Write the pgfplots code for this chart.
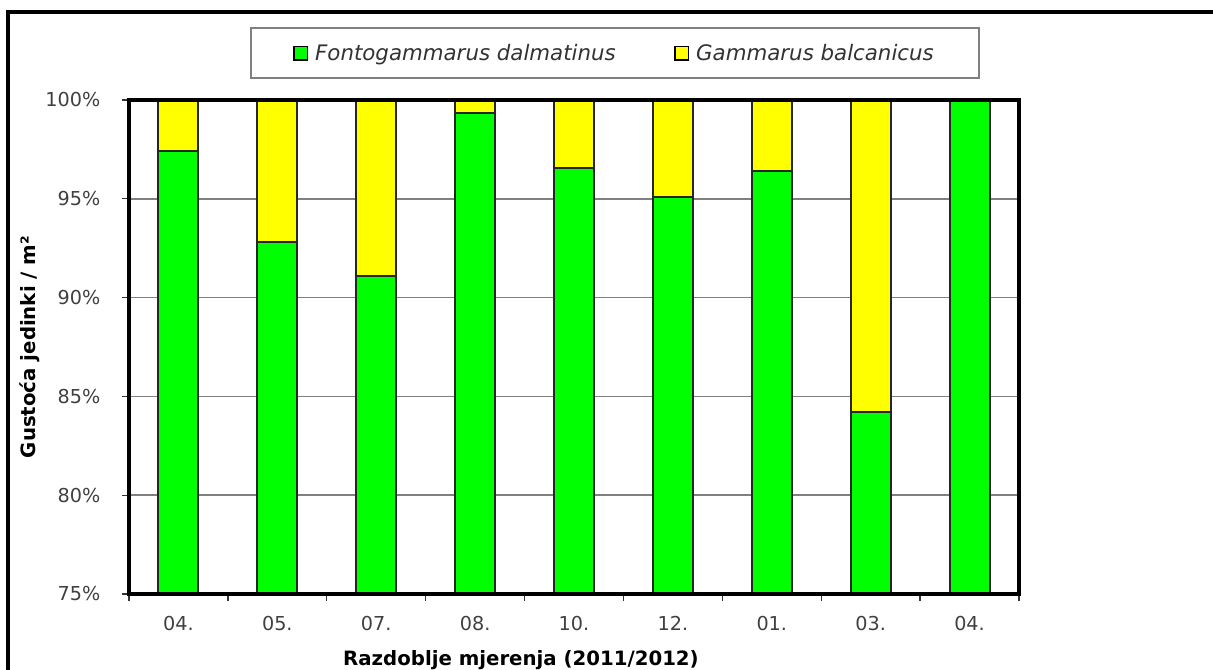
\documentclass[border=0pt]{standalone}
\usepackage{fontspec}
\setmainfont{DejaVu Sans}
\usepackage{pgfplots}
\pgfplotsset{compat=1.18}
\definecolor{fgreen}{HTML}{00FF00}
\definecolor{gyellow}{HTML}{FFFF00}
\definecolor{ticktext}{HTML}{404040}
\definecolor{legtext}{HTML}{333333}

\begin{document}
\begin{tikzpicture}
\useasboundingbox (0,0) rectangle (909.75pt,501.75pt);
\begin{axis}[
    name=ax,
    at={(96.75pt,56.25pt)}, anchor=south west,
    scale only axis, width=667.5pt, height=370.5pt,
    ybar stacked, bar width=30pt,
    xmin=-0.5, xmax=8.5, ymin=75, ymax=100,
    xtick={-0.5,0.5,...,8.5}, xticklabels={},
    extra x ticks={0,1,...,8},
    extra x tick labels={04.,05.,07.,08.,10.,12.,01.,03.,04.},
    extra x tick style={major tick length=0pt},
    ytick={75,80,...,100},
    yticklabels={75\%,80\%,85\%,90\%,95\%,100\%},
    tick align=outside, major tick length=5pt,
    xtick pos=lower, ytick pos=left,
    tick style={black!80, line width=1pt},
    axis line style={line width=2.5pt},
    ymajorgrids, grid style={black!50, line width=1.2pt},
    tick label style={font=\fontsize{14.4}{16}\selectfont, text=ticktext},
    x tick label style={yshift=-13pt},
    y tick label style={xshift=-13pt},
    xlabel={Razdoblje mjerenja (2011/2012)},
    ylabel={Gustoća jedinki / m²},
    label style={font=\bfseries\fontsize{14.8}{17}\selectfont},
    xlabel style={at={([yshift=-49.5pt]rel axis cs:0.4404,0)}, anchor=center},
    ylabel style={at={([xshift=-74.25pt]rel axis cs:0,0.5)}, anchor=center},
    legend columns=2,
    legend style={at={(0.546,1.095)}, anchor=center, draw=black!50,
        line width=1.2pt, font=\itshape\fontsize{16}{18}\selectfont,
        text=legtext, inner xsep=32pt, inner ysep=10pt,
        /tikz/every even column/.append style={column sep=42pt}},
    legend image code/.code={\draw[#1, draw=black, line width=1.2pt] (0pt,-5pt) rectangle (10pt,5pt);
        \path (13pt,0pt);},
]
\addplot[fill=fgreen, draw=black!85, line width=1.5pt] coordinates {
    (0,97.4) (1,92.8) (2,91.1) (3,99.35) (4,96.55)
    (5,95.1) (6,96.4) (7,84.2) (8,100)
};
\addlegendentry{Fontogammarus dalmatinus}
\addplot[fill=gyellow, draw=black!85, line width=1.5pt] coordinates {
    (0,2.6) (1,7.2) (2,8.9) (3,0.65) (4,3.45)
    (5,4.9) (6,3.6) (7,15.8) (8,0)
};
\addlegendentry{Gammarus balcanicus}
\end{axis}
\draw[line width=2.5pt] (ax.south west) rectangle (ax.north east);
\draw[line width=3pt] (6pt,-10pt) |- (930pt,492.75pt);
\end{tikzpicture}
\end{document}
